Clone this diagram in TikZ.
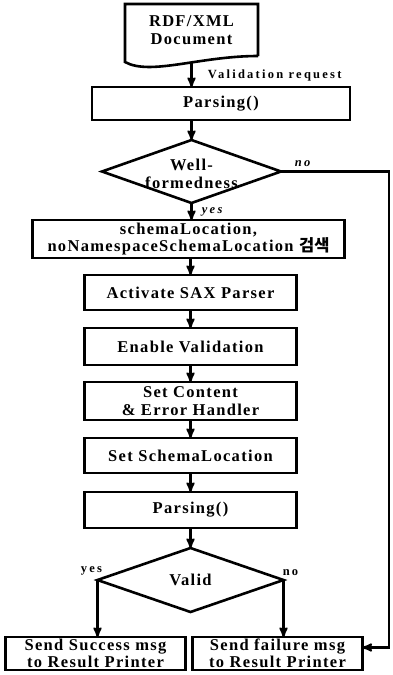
\documentclass[tikz,border=0pt]{standalone}
\usepackage{fontspec}
\setmainfont{Liberation Serif}[LetterSpace=8]
\newfontfamily\notefont{Liberation Serif}[LetterSpace=18]
\newfontfamily\kor{Noto Sans CJK KR}
\usetikzlibrary{arrows,positioning,shapes.geometric}

\begin{document}
\begin{tikzpicture}[->, >=stealth', auto, x=1pt, y=1pt, line width=2.2pt,
                box node/.style={rectangle, draw, line width=2.6pt, outer sep=0pt, minimum width=212pt,
                  minimum height=35pt, inner sep=1pt, align=center,
                  font=\fontsize{16.5}{17.5}\selectfont\bfseries},
                test node/.style={diamond, draw, line width=2.6pt, outer sep=0pt, inner sep=0pt},
                test text/.style={align=center, font=\fontsize{16.5}{18}\selectfont\bfseries},
                note/.style={font=\notefont\fontsize{12.5}{14}\selectfont\bfseries},
                slant note/.style={font=\notefont\fontsize{12.5}{14}\selectfont\bfseries\itshape}]

  \useasboundingbox (0,0) rectangle (392,-675);

  \node[box node, draw=none, minimum width=133pt, minimum height=52pt] (doc) at (191.5,-30) {RDF/XML\\Document};
  \node[box node, minimum width=258pt, minimum height=33pt, below=31pt of doc, xshift=29.5pt] (parse1) {Parsing()};
  \node[test node, minimum width=179pt, minimum height=63pt, below=20pt of parse1, xshift=-29.5pt,
        label={[test text, yshift=-2pt]center:Well-\\formedness}] (wf) {};
  \node[box node, minimum width=312pt, minimum height=38pt, below=17pt of wf, xshift=-3pt] (schema)
    {schemaLocation,\\noNamespaceSchemaLocation {\kor 검색}};
  \node[box node, below=17pt of schema, xshift=2pt] (sax) {Activate SAX Parser};
  \node[box node, minimum height=37pt, below=18pt of sax] (enable) {Enable Validation};
  \node[box node, minimum height=38pt, below=17pt of enable] (handler) {Set Content\\\& Error Handler};
  \node[box node, below=18pt of handler] (setloc) {Set SchemaLocation};
  \node[box node, minimum height=36pt, below=19pt of setloc] (parse2) {Parsing()};
  \node[test node, minimum width=186pt, minimum height=64pt, below=20pt of parse2,
        label={[test text]center:Valid}] (valid) {};
  \node[box node, minimum width=180pt, minimum height=33pt, below=25pt of valid, xshift=-95pt] (ok)
    {Send Success msg\\to Result Printer};
  \node[box node, minimum width=170pt, minimum height=33pt, below=25pt of valid, xshift=87pt] (fail)
    {Send failure msg\\to Result Printer};

  % document outline with wavy foot
  \draw[-, line width=2.6pt] (doc.south east) -- (doc.north east) -- (doc.north west)
    -- ([yshift=-6pt]doc.south west) .. controls +(25,-14) and +(-58,0) .. (doc.south east);

  \coordinate (docfoot) at ([yshift=-7pt]doc.south);
  \coordinate (turn) at ([xshift=108pt]wf.east);

  \draw (docfoot) -- (docfoot |- parse1.north) node[midway, right=12pt, note] {Validation request};
  \draw (wf.north |- parse1.south) -- (wf.north);
  \draw (wf.south) -- node[slant note, xshift=6pt] {yes} (wf.south |- schema.north);
  \draw (wf.east) -- node[pos=0.2, slant note] {no} (turn) |- ([yshift=6pt]fail.east);
  \draw (sax.north |- schema.south) -- (sax.north);
  \path (sax) edge (enable)
        (enable) edge (handler)
        (handler) edge (setloc)
        (setloc) edge (parse2)
        (parse2) edge (valid);
  \draw (valid.west) -- (valid.west |- ok.north) node[pos=0, above, xshift=-6pt, note] {yes};
  \draw (valid.east) -- (valid.east |- fail.north) node[pos=0, above, xshift=7pt, note] {no};
\end{tikzpicture}
\end{document}
